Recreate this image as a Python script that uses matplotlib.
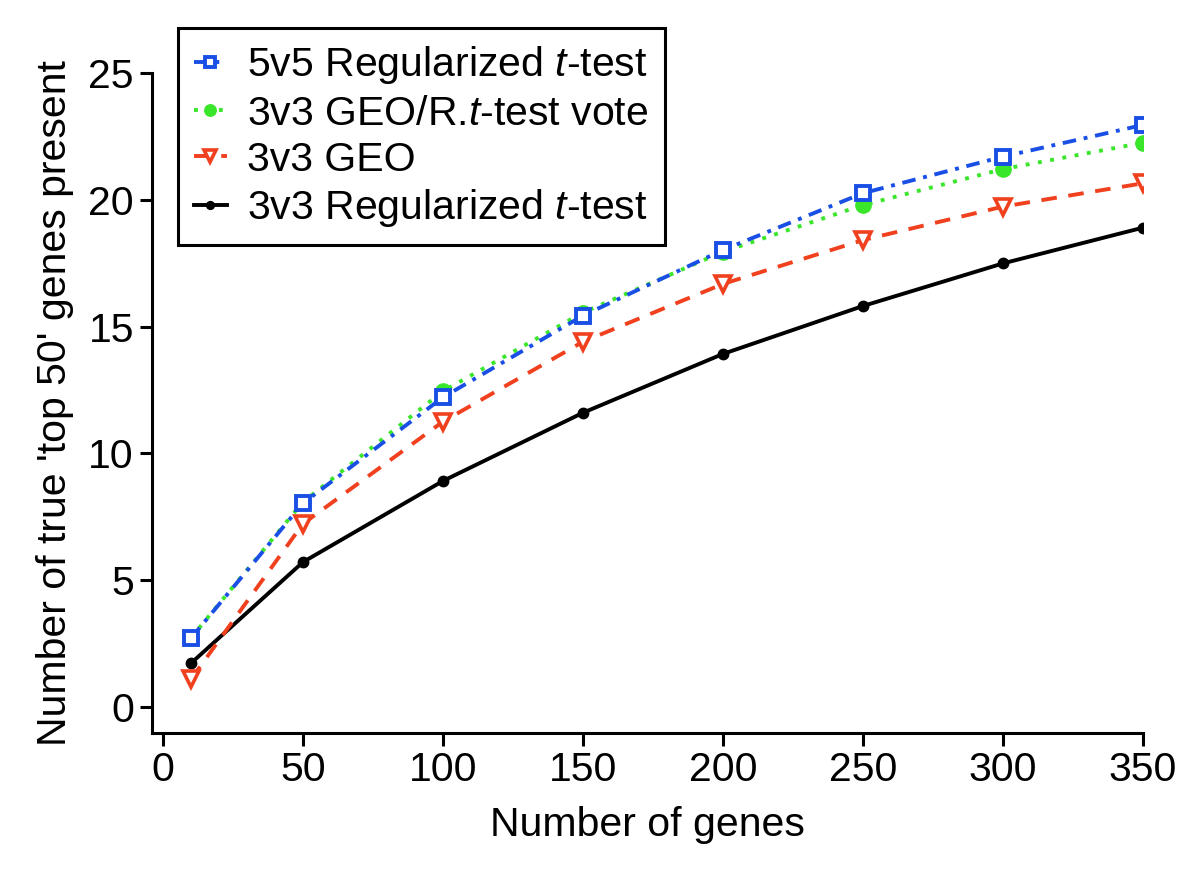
import matplotlib
matplotlib.use("Agg")
import matplotlib.pyplot as plt

plt.rcParams['font.family'] = ['Liberation Sans', 'DejaVu Sans']
plt.rcParams['mathtext.fontset'] = 'custom'
plt.rcParams['mathtext.rm'] = 'Liberation Sans'
plt.rcParams['mathtext.it'] = 'Liberation Sans:italic'

n_genes = [10, 50, 100, 150, 200, 250, 300, 350]
rtt_5v5 = [2.71, 8.03, 12.21, 15.43, 18.02, 20.26, 21.70, 22.95]
vote_3v3 = [2.72, 8.08, 12.45, 15.55, 17.95, 19.79, 21.21, 22.25]
geo_3v3 = [1.09, 7.22, 11.25, 14.40, 16.68, 18.41, 19.73, 20.65]
rtt_3v3 = [1.72, 5.71, 8.91, 11.60, 13.92, 15.81, 17.49, 18.90]

labels = ["5v5 Regularized $t$-test", "3v3 GEO/R.$t$-test vote",
          "3v3 GEO", "3v3 Regularized $t$-test"]
xticks = [0, 50, 100, 150, 200, 250, 300, 350]
yticks = [0, 5, 10, 15, 20, 25]

blue = "#1a4fe6"
green = "#3ae62a"
red = "#f0401e"
fs = 29.5

fig = plt.figure(figsize=(12, 8.75), dpi=100)
ax = fig.add_axes([0.1267, 0.1623, 0.8258, 0.7543])

l4, = ax.plot(n_genes, rtt_3v3, color="black", lw=2.8, ls="-", marker="o",
              ms=7.5, zorder=2)
l3, = ax.plot(n_genes, geo_3v3, color=red, lw=2.8, ls=(0, (4, 3)), marker="v",
              ms=12, mfc="white", mec=red, mew=2.6, zorder=3)
l2, = ax.plot(n_genes, vote_3v3, color=green, lw=2.8, ls=(0, (1, 2.2)), marker="o",
              ms=11, mfc=green, mec=green, zorder=4)
l1, = ax.plot(n_genes, rtt_5v5, color=blue, lw=2.8, ls=(0, (3.5, 2, 1, 2)), marker="s",
              ms=10, mfc="white", mec=blue, mew=2.8, zorder=5)

ax.set_xlim(-3.9, 350)
ax.set_ylim(-1.03, 25)
ax.set_xticks(xticks)
ax.set_yticks(yticks)
ax.spines['top'].set_visible(False)
ax.spines['right'].set_visible(False)
for s in ['left', 'bottom']:
    ax.spines[s].set_linewidth(2.2)
ax.tick_params(direction="out", length=9, width=2.2, labelsize=fs, pad=4)
ax.set_xlabel("Number of genes", fontsize=fs, labelpad=12)
ax.set_ylabel("Number of true 'top 50' genes present", fontsize=fs, labelpad=10)

leg = fig.legend([l1, l2, l3, l4], labels, loc="upper left",
                 bbox_to_anchor=(0.148, 0.968), borderaxespad=0, fontsize=fs,
                 frameon=True, fancybox=False, edgecolor="black", framealpha=1,
                 handlelength=0.8, handletextpad=0.5, labelspacing=0.2,
                 borderpad=0.4, markerscale=0.75)
leg.get_frame().set_linewidth(2.2)

fig.savefig("out.png", dpi=100)
